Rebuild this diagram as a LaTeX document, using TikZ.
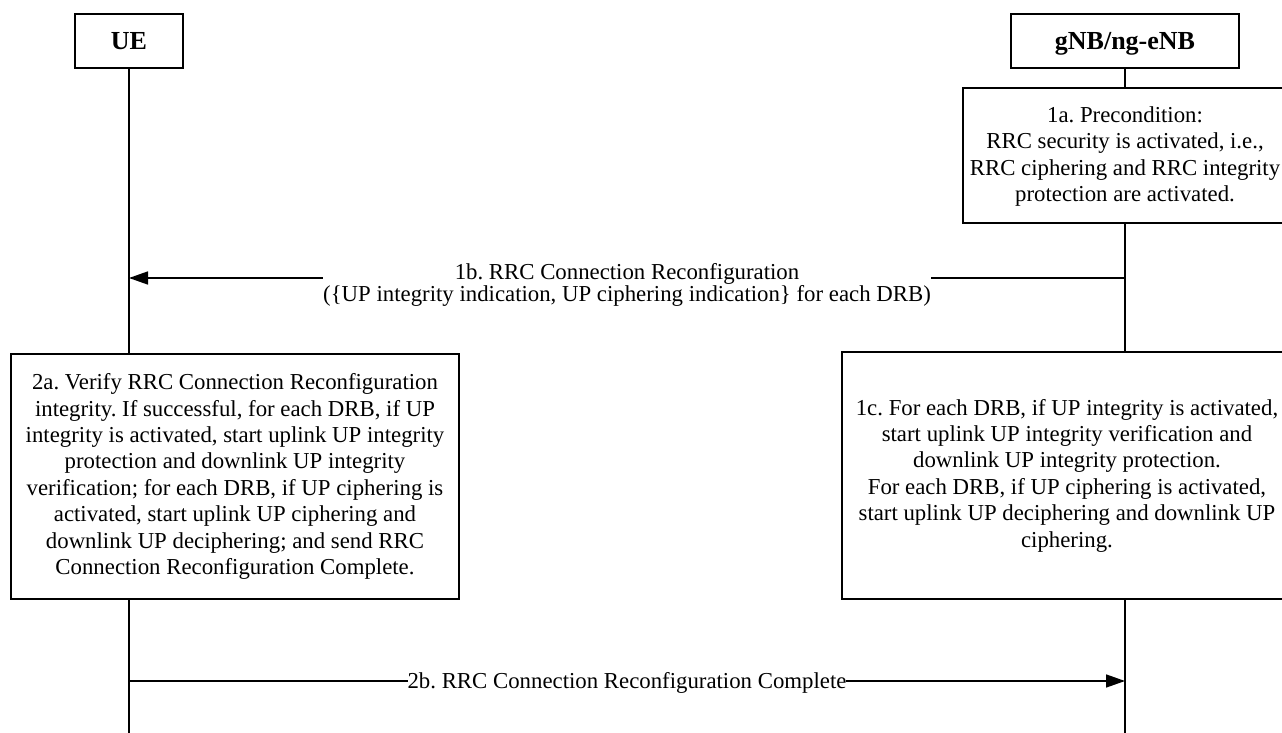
\documentclass[tikz,border=0pt]{standalone}
\usepackage{fontspec}
\setmainfont{Liberation Serif}
\frenchspacing
\usetikzlibrary{arrows.meta,positioning}
\tikzstyle{ent}=[draw=black, fill=white, line width=0.6pt, minimum height=27pt, inner sep=0pt, text height=9pt, text depth=0pt, font=\fontsize{13}{15}\selectfont\bfseries]
\tikzstyle{proc}=[draw=black, fill=white, line width=0.6pt, align=center, inner sep=0pt, font=\fontsize{11.4}{13.2}\selectfont]
\tikzstyle{l1}=[line width=0.8pt]
\tikzstyle{msg}=[l1, -{Triangle[length=9.5pt,width=6.5pt]}]
\tikzstyle{lbl}=[fill=white, align=center, inner sep=0pt, font=\fontsize{11.4}{11}\selectfont]

\begin{document}
\begin{tikzpicture}[x=0.5pt,y=-0.5pt]
    \useasboundingbox (0,0) rectangle (1282,733);
    \node[ent, minimum width=54pt]  (ue)  at (129,41)  {UE};
    \node[ent, minimum width=114pt] (gnb) at (1125,41) {gNB/ng-eNB};
    \coordinate (ue end)  at (129,733);
    \coordinate (gnb end) at (1125,733);
    \draw[l1] (ue) -- (ue end);
    \draw[l1] (gnb) -- (gnb end);

    \node[proc, minimum width=162pt, minimum height=67.5pt, text depth=1.5pt] (s1a) at (1125,155.5)
        {1a. Precondition:\\RRC security is activated, i.e.,\\RRC ciphering and RRC integrity\\protection are activated.};
    \node[proc, minimum width=224pt, minimum height=122.5pt] (s2a) at (235,476.5)
        {2a. Verify RRC Connection Reconfiguration\\integrity. If successful, for each DRB, if UP\\integrity is activated, start uplink UP integrity\\protection and downlink UP integrity\\verification; for each DRB, if UP ciphering is\\activated, start uplink UP ciphering and\\downlink UP deciphering; and send RRC\\Connection Reconfiguration Complete.};
    \node[proc, minimum width=225pt, minimum height=123.5pt] (s1c) at (1067,475.5)
        {1c. For each DRB, if UP integrity is activated,\\start uplink UP integrity verification and\\downlink UP integrity protection.\\For each DRB, if UP ciphering is activated,\\start uplink UP deciphering and downlink UP\\ciphering.};

    \coordinate (m1b gnb) at (1125,278);
    \coordinate (m1b ue)  at (129,278);
    \coordinate (m2b ue)  at (129,681);
    \coordinate (m2b gnb) at (1125,681);
    \draw[msg] (m1b gnb) -- node[lbl, minimum width=304pt, yshift=-3.5pt]
        {1b. RRC Connection Reconfiguration\\(\{UP integrity indication, UP ciphering indication\} for each DRB)} (m1b ue);
    \draw[msg] (m2b ue) -- node[lbl, yshift=-1pt] {2b. RRC Connection Reconfiguration Complete} (m2b gnb);
\end{tikzpicture}
\end{document}
